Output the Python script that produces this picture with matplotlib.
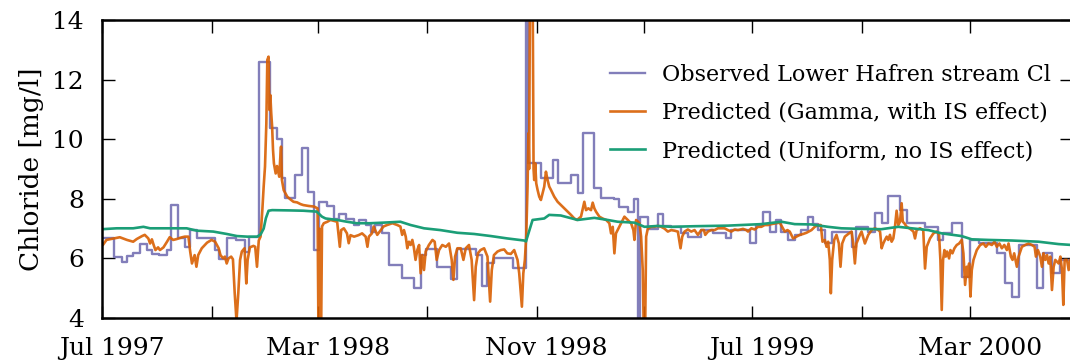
import datetime
import matplotlib
matplotlib.use("Agg")
import matplotlib.pyplot as plt
import matplotlib.dates as mdates
import matplotlib.transforms as mtransforms
import numpy as np

# days since 1 Jul 1997, values in mg/l
obs_days = [0, 13, 22, 28, 35, 43, 50, 56, 63.5, 73, 77, 85, 93.4, 99, 106.5, 127, 131, 140, 150, 161, 165,
            176, 189, 196.5, 202, 206, 217, 224.7, 231, 237.7, 243.4, 252.8, 260.25, 266, 273.4, 282.75, 288.4,
            296, 301.5, 307, 314.6, 322, 337, 350.25, 357.75, 363.4, 376.5, 391.5, 399, 419.6, 427, 432.75, 440,
            461, 476, 478, 492.75, 506, 511.5, 526.5, 534, 539.6, 552.75, 560.25, 575.25, 580.9, 590.25, 597.75,
            601.5, 604, 612.75, 624, 629.6, 639, 650, 657.75, 672.75, 686, 701, 706.5, 727, 734.6, 742, 749.6,
            757, 762.75, 770, 777.75, 785, 792.75, 798.4, 804, 811.5, 819, 841.5, 847, 860.25, 867.75, 875.25,
            882.75, 895.9, 903.4, 924, 939, 944.6, 954, 965.25, 974.6, 985, 1005, 1014, 1021.5, 1029, 1049.6,
            1057, 1066.5, 1076, 1089]
obs_vals = [6.67, 6.06, 5.89, 6.08, 6.17, 6.48, 6.28, 6.14, 6.11, 6.28, 7.79, 6.67, 6.39, 6.95, 6.67, 6.28, 5.97,
            6.67, 6.62, 6.2, 6.71,
            12.6, 10.37, 10.0, 8.7, 8.03, 8.8, 9.7, 8.23, 6.28, 7.89, 7.77, 7.31, 7.48, 7.31, 7.12, 7.29,
            7.12, 6.9, 7.12, 6.84, 5.78, 5.35, 5.0, 6.11, 6.3, 5.72, 5.3, 6.3, 6.11, 5.07, 5.83, 6.0,
            5.67, 15.0, 9.19, 8.69, 9.3, 8.52, 8.8, 8.18, 10.2, 8.36, 8.02, 7.99, 7.74, 7.57, 7.99,
            3.5, 7.4, 6.99, 7.5, 7.09, 7.06, 6.86, 6.73, 6.95, 6.86, 6.67, 6.95, 6.5, 7.12, 7.57, 6.9,
            7.29, 6.9, 6.62, 6.79, 6.95, 7.38, 7.15, 6.95, 6.5, 6.9, 6.39, 7.06, 6.9, 7.51, 7.18,
            8.09, 7.62, 7.2, 7.06, 6.62, 6.84, 7.18, 5.39, 6.62, 6.5, 6.19, 5.16, 4.71, 6.45, 5.0,
            6.17, 5.5, 5.95, 5.95]

gamma_days = [0, 1, 5, 13, 20, 28, 35, 39, 45, 48, 52, 54, 56, 58, 60, 63, 65, 69, 73, 76, 80, 84, 90, 93, 97,
              99, 101, 104, 106, 108, 112, 118, 123, 127, 131, 133, 136, 138, 140, 142, 145, 147, 149, 151, 153,
              155, 157, 160, 162, 163.5, 166, 170, 172, 174, 176, 178, 180, 181.5, 183, 184.5, 185.6, 187, 187.5,
              188, 189, 190, 191, 192, 193, 194, 195, 196.5, 199, 200, 201, 202, 204, 208, 211.5, 215, 219, 223,
              226, 232, 238, 242, 243, 244, 245, 246, 247, 249, 253, 256.5, 264, 267, 268.5, 271.5, 275, 277,
              279, 283, 288, 292, 296, 298, 299.6, 303, 305, 309, 313, 316, 320, 326, 331.5, 335, 337, 339, 341,
              342.75, 344.6, 346.5, 348.4, 350, 352, 354, 356, 357.75, 359.6, 361.5, 363.4, 367, 371, 373.5,
              375.75, 378.4, 382, 386, 389.6, 392.6, 394.5, 396.4, 399, 402.75, 405.75, 408.4, 412, 415, 417.75,
              419.6, 422, 425, 429, 432.75, 435.75, 437.6, 440, 444, 447.75, 451.5, 455, 459, 462.75, 466.5,
              468.4, 470.25, 471.4, 473, 474.75, 476.25, 477.75, 478.75, 479.5, 480.5, 483.5, 484.5, 485.25,
              486.4, 487.5, 489, 490.9, 492.75, 494.6, 496.5, 498.4, 500.25, 502.1, 504, 507.75, 511.5, 515.25,
              519, 522.75, 526.5, 530.25, 533.25, 537.75, 541.5, 543.4, 546, 549, 550.9, 552.75, 554.6, 558.4,
              562, 566, 569.6, 571.5, 573.4, 575.25, 577, 579.75, 582.75, 586.5, 590.25, 594, 596.6, 597.75,
              599.6, 603.4, 605.25, 607.1, 608.25, 609.75, 610.9, 612.75, 616.5, 620.25, 624, 627.75, 631.5,
              635.25, 639, 642.75, 646.5, 649.5, 651.4, 654, 657.75, 661.5, 665.25, 669, 672.75, 675.75, 677.25,
              680.25, 684, 687.75, 691.5, 695.25, 699, 702.75, 706.5, 710.25, 714, 719.6, 723.4, 725.25, 729,
              732.75, 736.5, 740.25, 744, 747.75, 751.5, 757, 760.9, 763.5, 766.5, 769.5, 772.1, 775.9, 779.6,
              783.4, 787.1, 790.9, 796.5, 800.25, 804, 807, 808.9, 811.5, 813.4, 815.25, 817.1, 818.25, 819.75,
              822, 824.6, 827.25, 829.1, 831, 834, 837.75, 841.5, 843.4, 845.25, 847, 850.9, 852.75, 856.5,
              860.25, 864, 867.75, 871.5, 873.5, 875.25, 877.1, 879, 881, 882.75, 884.6, 886.5, 888.4, 890.25,
              892.1, 894, 895.9, 897.75, 899, 900.75, 903.4, 907, 909, 911, 912.75, 914.6, 918.4, 922, 924,
              925.9, 929.6, 933.4, 937.1, 939.75, 941.25, 942.75, 944.25, 945.75, 947.25, 948.75, 951, 952.5,
              954.75, 957, 959.6, 962.25, 965.25, 967.1, 969, 970.9, 972, 973.5, 975, 976.5, 978.4, 982.1,
              985.9, 989.6, 992.25, 995.25, 999, 1002, 1004.6, 1007.5, 1010.25, 1013, 1015.9, 1017.75, 1020.4,
              1022.25, 1024.1, 1027.1, 1029, 1032.75, 1036.5, 1040.25, 1044, 1047, 1048.5, 1050.75, 1053.4,
              1055.25, 1057.1, 1059, 1061, 1062.75, 1064.6, 1066.5, 1068.4, 1070.25, 1074, 1076, 1077.75,
              1079.25, 1080.75, 1083.4, 1085.25, 1087.1, 1089]
gamma_vals = [6.45, 6.45, 6.62, 6.67, 6.71, 6.62, 6.56, 6.65, 6.75, 6.79, 6.67, 6.5, 6.64, 6.45, 6.28, 6.37, 6.28,
              6.37, 6.56, 6.71, 6.62, 6.65, 6.71, 6.73, 6.73,
              6.23, 5.83, 6.11, 5.72, 6.11, 6.34, 6.53, 6.62, 6.56, 6.34, 6.11, 6.0, 6.06, 5.83, 6.0, 6.06, 5.97,
              4.83, 3.9, 4.83,
              5.95, 6.23, 6.34, 5.16, 5.95, 6.37, 6.42, 6.39, 5.72, 6.6, 6.73, 7.62, 8.41, 9.08, 10.53, 12.66,
              12.77, 11.65,
              10.98, 11.48, 10.87, 10.42, 9.64, 9.19, 9.02, 8.85, 9.1, 8.74, 9.3, 9.75, 8.63, 8.29, 8.07, 7.98,
              7.9, 7.88, 7.82,
              7.79, 7.76, 7.74, 7.68, 3.5, 7.0, 3.5, 3.5, 7.07, 7.18, 7.23, 7.29, 7.23, 6.39, 6.95, 7.01, 6.84,
              6.51,
              6.78, 6.73, 6.78, 6.84, 6.73, 6.39, 6.73, 6.84, 7.07, 6.79, 6.95, 7.07, 7.12, 7.18, 7.12, 7.07, 6.79,
              6.95, 6.73,
              6.34, 6.56, 6.45, 6.62, 6.39, 5.95, 6.28, 6.45, 5.5, 6.11, 5.61, 6.23, 6.45, 6.62, 6.56,
              5.95, 6.28, 6.45, 6.39, 6.5, 5.95, 5.28, 6.06, 6.34, 6.34, 5.95, 6.34, 6.45, 5.95, 4.6,
              5.72, 6.17, 6.28, 6.34, 6.06, 4.55, 5.61, 6.11, 6.23, 6.28, 6.3, 6.17, 6.15, 6.28, 5.95,
              5.5, 4.83, 4.38, 5.5, 5.95, 6.73, 8.41, 10.2, 9.0, 15.0, 15.0, 9.0, 8.63,
              9.19, 8.52, 8.3, 8.07, 7.96, 8.18, 8.41, 8.91, 8.63, 8.41, 8.3, 8.07, 7.9, 7.79,
              7.68, 7.57, 7.46, 7.34, 7.29, 7.4, 7.9, 7.62, 7.68, 7.62, 7.87, 7.68, 7.57, 7.4,
              7.34, 7.29, 7.18, 6.84, 7.06, 6.17, 6.84, 7.0, 7.18, 7.4, 7.29, 7.18, 6.95, 6.62,
              7.29, 7.18, 6.73, 5.6, 3.5, 3.5, 6.73, 7.0, 7.06, 7.06, 7.09, 7.06, 7.0,
              6.9, 6.95, 6.93, 6.9, 6.34, 6.73, 6.9, 6.97, 6.9, 6.95, 6.79, 6.95, 6.95, 6.79,
              6.9, 6.95, 6.95, 7.01, 7.01, 7.01, 6.95, 6.9, 6.97, 6.95, 6.99, 6.95, 6.9, 7.01,
              6.97, 7.06, 7.06, 7.12, 7.12, 7.15, 7.18, 7.2, 7.06, 6.9, 6.95, 6.9, 6.67, 6.73,
              6.79, 6.82, 6.86, 6.95, 7.06, 7.12, 7.12, 6.56, 6.62, 6.39, 6.56, 5.95, 4.83, 5.95,
              6.62, 6.79, 6.5, 5.72, 6.5, 6.73, 6.82, 6.9, 6.5, 5.83, 6.5, 6.79, 6.9, 6.5,
              6.79, 6.95, 7.01, 6.95, 6.9, 6.34, 6.5, 6.62, 6.73, 6.62, 6.79, 6.56, 6.67, 7.06,
              7.6, 7.12, 7.23, 7.85, 7.23, 7.18, 7.06, 7.0, 6.95, 6.9, 6.67, 6.95, 7.01, 6.95, 5.66,
              6.39, 6.67, 6.84, 6.9, 6.79, 5.95, 4.27, 5.95, 6.28, 6.06, 6.23, 6.0, 6.28,
              6.17, 6.34, 6.45, 6.5, 6.62, 6.17, 5.11, 5.72, 5.39, 5.83, 4.72, 5.61, 5.95, 6.28,
              6.45, 6.5, 6.39, 6.5, 6.45, 6.56, 6.39, 6.5, 6.34, 6.45, 6.28, 6.5, 6.06,
              5.95, 6.17, 5.72, 6.06, 6.39, 6.45, 6.5, 6.45, 6.39, 6.06, 6.28, 6.06,
              5.72, 6.17, 5.95, 6.11, 5.83, 6.06, 4.94, 5.72, 5.95, 5.83, 6.06, 5.61,
              4.44, 5.95, 5.95, 5.61, 5.95, 6.0]

uniform_days = [0, 16.5, 35, 46.5, 54, 73, 95, 106.5, 125, 140, 151.5, 163, 174, 178, 181.5, 184, 187, 191, 211.5,
                226, 241, 247, 251, 264, 275, 286, 301, 316, 335, 346.5, 361.5, 380, 399, 417.75, 436.5, 455, 474,
                476, 483.4, 496.5, 502, 515, 534, 552.75, 567.75, 579, 597.75, 609, 624, 639, 665, 702.75, 740,
                762.75, 777.75, 796.5, 815, 830, 852.75, 875, 894, 909, 927.75, 942.75, 965, 976.5, 995, 1021.5,
                1051.5, 1074, 1089]
uniform_vals = [6.98, 7.01, 7.01, 7.06, 7.01, 7.01, 7.01, 6.93, 6.9, 6.82, 6.75, 6.73, 6.73, 6.8, 7.0, 7.35, 7.6,
                7.62, 7.61, 7.6, 7.57, 7.4, 7.34, 7.29, 7.23, 7.18, 7.18, 7.2, 7.23, 7.12, 7.01, 6.95, 6.86, 6.82,
                6.75, 6.67, 6.6, 6.57, 7.29, 7.34, 7.46, 7.44, 7.29, 7.36, 7.29, 7.23, 7.2, 7.06, 7.09, 7.06,
                7.08, 7.1, 7.15, 7.23, 7.15, 7.14, 7.06, 7.01, 6.99, 6.98, 7.06, 7.01, 6.95, 6.84, 6.75, 6.64,
                6.62, 6.6, 6.56, 6.48, 6.45]

tick_dates = ["1997-07-01", "1997-11-01", "1998-03-01", "1998-07-01", "1998-11-01",
              "1999-03-01", "1999-07-01", "1999-11-01", "2000-03-01"]
tick_labels = ["Jul 1997", "", "Mar 1998", "", "Nov 1998", "", "Jul 1999", "", "Mar 2000"]

start = mdates.date2num(datetime.datetime(1997, 7, 1))


def to_num(days):
    return start + np.asarray(days, dtype=float)


plt.rcParams["font.family"] = ["DejaVu Serif"]

fig = plt.figure(figsize=(10.7, 3.63), dpi=100)
ax = fig.add_axes([102 / 1070, 1 - 318 / 363, 970 / 1070, 298 / 363])

ax.step(to_num(obs_days), obs_vals, where="post", color="#7570b3", lw=1.7, alpha=0.9,
        label="Observed Lower Hafren stream Cl")
ax.plot(to_num(gamma_days), gamma_vals, color="#d95f02", lw=1.9, alpha=0.9,
        label="Predicted (Gamma, with IS effect)")
ax.plot(to_num(uniform_days), uniform_vals, color="#1b9e77", lw=1.9,
        label="Predicted (Uniform, no IS effect)")

ax.set_xlim(to_num(0), to_num(1089))
ax.set_ylim(4, 14)
ax.set_yticks([4, 6, 8, 10, 12, 14])

tick_nums = [mdates.date2num(datetime.datetime.strptime(d, "%Y-%m-%d")) for d in tick_dates]
ax.set_xticks(tick_nums)
ax.set_xticklabels(tick_labels)

ax.tick_params(axis="both", direction="in", length=9, width=1.0, labelsize=18,
               top=True, right=True)
ax.tick_params(axis="x", pad=14)
ax.tick_params(axis="y", pad=13)
for sp in ax.spines.values():
    sp.set_linewidth(1.8)

# labels sit a little right of their ticks in the original
offset = mtransforms.ScaledTranslation(10 / 100, 0, fig.dpi_scale_trans)
for tick in ax.xaxis.get_major_ticks():
    tick.label1.set_transform(tick.label1.get_transform() + offset)

ax.set_ylabel("Chloride [mg/l]", fontsize=19, labelpad=6)

ax.legend(loc="upper left", bbox_to_anchor=(0.515, 0.883), frameon=False, fontsize=16,
          handlelength=1.55, handletextpad=0.75, labelspacing=0.73, borderaxespad=0)

fig.savefig("out.png", dpi=100)
